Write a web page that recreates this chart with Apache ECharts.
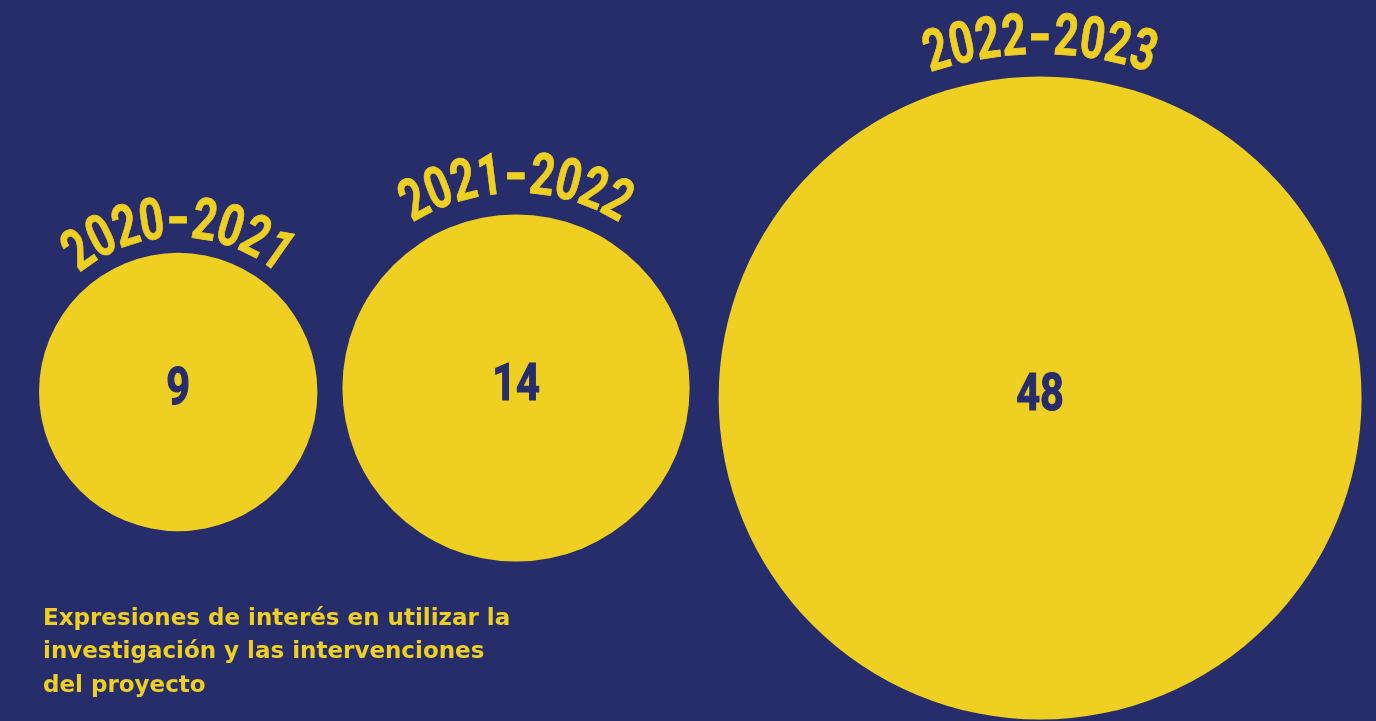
<!DOCTYPE html>
<html>
<head>
<meta charset="utf-8">
<script src="https://cdn.jsdelivr.net/npm/echarts@6/dist/echarts.min.js"></script>
<style>
html,body{margin:0;padding:0;background:#272D6B;}
#main{width:1376px;height:721px;}
</style>
</head>
<body>
<div id="main"></div>
<script>
// ---- data ----
const categories = ['2020-2021', '2021-2022', '2022-2023'];
const values = [9, 14, 48];
const captionLines = [
  'Expresiones de interés en utilizar la',
  'investigación y las intervenciones',
  'del proyecto'
];

// ---- layout / style ----
const W = 1376, H = 721;
const NAVY = '#272D6B';
const YELLOW = '#EECF22';
const radiusPerSqrt = 46.4;      // circle area proportional to value
const firstLeft = 39;
const circleGaps = [25, 29];
const centerYs = [392, 388, 398];
const labelGaps = [9, 15, 16];
const condFont = "Roboto, 'Liberation Sans', sans-serif";
const labelSize = 58;
const labelCap = 42;
const labelScaleX = 0.74;
const hyphenScaleX = 1.05;
const charArc = 26;
const numberSize = 52;
const numberScaleX = 0.8;

// compute packed centers from radii
const rows = [];
let prevCx = null, prevR = null;
values.forEach((v, i) => {
  const r = radiusPerSqrt * Math.sqrt(v);
  const cx = i === 0 ? firstLeft + r : prevCx + prevR + circleGaps[i - 1] + r;
  rows.push([cx, centerYs[i], v, i]);
  prevCx = cx; prevR = r;
});

const chart = echarts.init(document.getElementById('main'), null, {renderer: 'canvas'});

function renderItem(params, api) {
  const cx = api.value(0), cy = api.value(1), v = api.value(2);
  const idx = params.dataIndex;
  const c = api.coord([cx, cy]);
  const r = api.size([radiusPerSqrt * Math.sqrt(v), 0])[0];
  const children = [
    {type: 'circle', shape: {cx: c[0], cy: c[1], r: r}, style: {fill: YELLOW}},
    {type: 'text', x: c[0], y: c[1] - 1, scaleX: numberScaleX, style: {
      text: String(v), fill: NAVY, stroke: NAVY, lineWidth: 1.2,
      fontSize: numberSize, fontWeight: 'bold',
      fontFamily: condFont, align: 'center', verticalAlign: 'middle'}}
  ];
  const label = categories[idx];
  const n = label.length;
  const Rc = r + labelGaps[idx] + labelCap / 2;
  const step = charArc / Rc;
  for (let j = 0; j < n; j++) {
    const th = (j - (n - 1) / 2) * step;
    const ch = label[j];
    children.push({
      type: 'text',
      x: c[0] + Rc * Math.sin(th),
      y: c[1] - Rc * Math.cos(th),
      rotation: -th,
      scaleX: ch === '-' ? hyphenScaleX : labelScaleX,
      style: {
        text: ch, fill: YELLOW, stroke: YELLOW, lineWidth: 0.8,
        fontSize: labelSize, fontWeight: 'bold',
        fontFamily: condFont, align: 'center', verticalAlign: 'middle'
      }
    });
  }
  return {type: 'group', children: children};
}

chart.setOption({
  backgroundColor: NAVY,
  animation: false,
  title: {
    text: captionLines.join('\n'),
    left: 43, top: 602, padding: 0,
    textStyle: {
      color: YELLOW, fontFamily: "'DejaVu Sans', sans-serif",
      fontWeight: 'bold', fontSize: 23, lineHeight: 33.5
    }
  },
  grid: {left: 0, right: 0, top: 0, bottom: 0},
  xAxis: {type: 'value', min: 0, max: W, show: false},
  yAxis: {type: 'value', min: 0, max: H, inverse: true, show: false},
  series: [{
    type: 'custom',
    silent: true,
    renderItem: renderItem,
    data: rows,
    clip: false
  }]
});
</script>
</body>
</html>
